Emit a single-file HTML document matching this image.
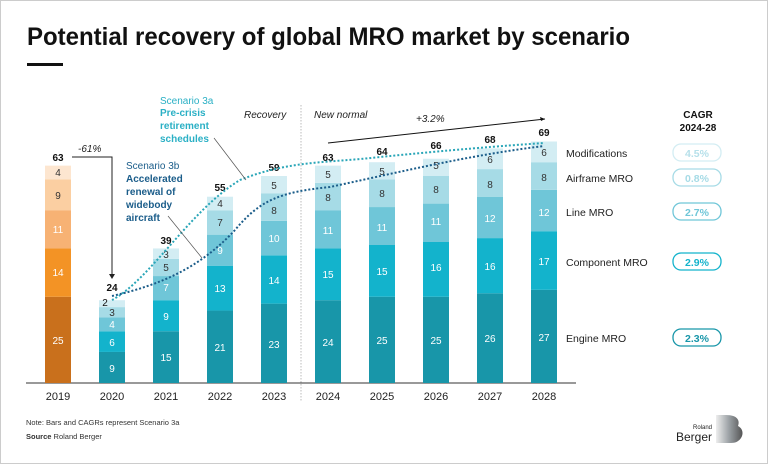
<!DOCTYPE html>
<html><head><meta charset="utf-8"><style>
html,body{margin:0;padding:0;background:#fff}
svg{display:block;font-family:"Liberation Sans",sans-serif}
</style></head><body>
<svg width="768" height="464" viewBox="0 0 768 464" xmlns="http://www.w3.org/2000/svg">
<rect x="0.5" y="0.5" width="767" height="463" fill="#fff" stroke="#ccc"/>
<text x="27" y="45" font-size="25" font-weight="bold" fill="#111" textLength="603" lengthAdjust="spacingAndGlyphs">Potential recovery of global MRO market by scenario</text>
<rect x="27" y="63" width="36" height="3" fill="#111"/>

<!-- divider -->
<line x1="301" y1="105" x2="301" y2="402" stroke="#bbb" stroke-dasharray="1.5,1.5"/>
<text x="244" y="118" font-size="10" font-style="italic" fill="#222">Recovery</text>
<text x="314" y="118" font-size="10" font-style="italic" fill="#222">New normal</text>
<line x1="328" y1="143" x2="545" y2="119" stroke="#111" stroke-width="1"/>
<polygon points="545,119 540,117 541,121" fill="#111"/>
<text x="416" y="122" font-size="10" font-style="italic" fill="#222">+3.2%</text>

<!-- baseline -->
<line x1="26" y1="383" x2="576" y2="383" stroke="#333" stroke-width="1"/>

<g font-size="10" text-anchor="middle">
<!-- 2019 -->
<rect x="45" y="296.75" width="26" height="86.25" fill="#c9701c"/>
<rect x="45" y="248.45" width="26" height="48.3" fill="#f39325"/>
<rect x="45" y="210.5" width="26" height="37.95" fill="#f7b274"/>
<rect x="45" y="179.45" width="26" height="31.05" fill="#fbcfa2"/>
<rect x="45" y="165.65" width="26" height="13.8" fill="#fde6d0"/>
<text x="58" y="344" fill="#fff">25</text><text x="58" y="276" fill="#fff">14</text><text x="58" y="233" fill="#fff">11</text><text x="58" y="199" fill="#333">9</text><text x="58" y="176" fill="#333">4</text>
<text x="58" y="161" font-weight="bold" fill="#111">63</text>

<!-- bars helper colors: e #1896a9 c #13b3cc l #6fc6d8 a #a6dbe6 m #d3edf3 -->
<!-- 2020 -->
<rect x="99" y="351.95" width="26" height="31.05" fill="#1896a9"/>
<rect x="99" y="331.25" width="26" height="20.7" fill="#13b3cc"/>
<rect x="99" y="317.45" width="26" height="13.8" fill="#6fc6d8"/>
<rect x="99" y="307.1" width="26" height="10.35" fill="#a6dbe6"/>
<rect x="99" y="300.2" width="26" height="6.9" fill="#d3edf3"/>
<text x="112" y="372" fill="#fff">9</text><text x="112" y="346" fill="#fff">6</text><text x="112" y="328" fill="#fff">4</text><text x="112" y="316" fill="#333">3</text><text x="105" y="306" fill="#111">2</text>
<text x="112" y="291" font-weight="bold" fill="#111">24</text>
<!-- 2021 -->
<rect x="153" y="331.25" width="26" height="51.75" fill="#1896a9"/>
<rect x="153" y="300.2" width="26" height="31.05" fill="#13b3cc"/>
<rect x="153" y="276.05" width="26" height="24.15" fill="#6fc6d8"/>
<rect x="153" y="258.8" width="26" height="17.25" fill="#a6dbe6"/>
<rect x="153" y="248.45" width="26" height="10.35" fill="#d3edf3"/>
<text x="166" y="361" fill="#fff">15</text><text x="166" y="320" fill="#fff">9</text><text x="166" y="291" fill="#fff">7</text><text x="166" y="271" fill="#333">5</text><text x="166" y="258" fill="#333">3</text>
<text x="166" y="244" font-weight="bold" fill="#111">39</text>
<!-- 2022 -->
<rect x="207" y="310.55" width="26" height="72.45" fill="#1896a9"/>
<rect x="207" y="265.7" width="26" height="44.85" fill="#13b3cc"/>
<rect x="207" y="234.65" width="26" height="31.05" fill="#6fc6d8"/>
<rect x="207" y="210.5" width="26" height="24.15" fill="#a6dbe6"/>
<rect x="207" y="196.7" width="26" height="13.8" fill="#d3edf3"/>
<text x="220" y="351" fill="#fff">21</text><text x="220" y="292" fill="#fff">13</text><text x="220" y="254" fill="#fff">9</text><text x="220" y="226" fill="#333">7</text><text x="220" y="207" fill="#333">4</text>
<text x="220" y="191" font-weight="bold" fill="#111">55</text>
<!-- 2023 -->
<rect x="261" y="303.65" width="26" height="79.35" fill="#1896a9"/>
<rect x="261" y="255.35" width="26" height="48.3" fill="#13b3cc"/>
<rect x="261" y="220.85" width="26" height="34.5" fill="#6fc6d8"/>
<rect x="261" y="193.25" width="26" height="27.6" fill="#a6dbe6"/>
<rect x="261" y="176" width="26" height="17.25" fill="#d3edf3"/>
<text x="274" y="348" fill="#fff">23</text><text x="274" y="284" fill="#fff">14</text><text x="274" y="242" fill="#fff">10</text><text x="274" y="214" fill="#333">8</text><text x="274" y="189" fill="#333">5</text>
<text x="274" y="171" font-weight="bold" fill="#111">59</text>
<!-- 2024 -->
<rect x="315" y="300.2" width="26" height="82.8" fill="#1896a9"/>
<rect x="315" y="248.45" width="26" height="51.75" fill="#13b3cc"/>
<rect x="315" y="210.5" width="26" height="37.95" fill="#6fc6d8"/>
<rect x="315" y="182.9" width="26" height="27.6" fill="#a6dbe6"/>
<rect x="315" y="165.65" width="26" height="17.25" fill="#d3edf3"/>
<text x="328" y="346" fill="#fff">24</text><text x="328" y="278" fill="#fff">15</text><text x="328" y="234" fill="#fff">11</text><text x="328" y="201" fill="#333">8</text><text x="328" y="178" fill="#333">5</text>
<text x="328" y="161" font-weight="bold" fill="#111">63</text>
<!-- 2025 -->
<rect x="369" y="296.75" width="26" height="86.25" fill="#1896a9"/>
<rect x="369" y="245" width="26" height="51.75" fill="#13b3cc"/>
<rect x="369" y="207.05" width="26" height="37.95" fill="#6fc6d8"/>
<rect x="369" y="179.45" width="26" height="27.6" fill="#a6dbe6"/>
<rect x="369" y="162.2" width="26" height="17.25" fill="#d3edf3"/>
<text x="382" y="344" fill="#fff">25</text><text x="382" y="275" fill="#fff">15</text><text x="382" y="231" fill="#fff">11</text><text x="382" y="197" fill="#333">8</text><text x="382" y="175" fill="#333">5</text>
<text x="382" y="155" font-weight="bold" fill="#111">64</text>
<!-- 2026 -->
<rect x="423" y="296.75" width="26" height="86.25" fill="#1896a9"/>
<rect x="423" y="242" width="26" height="54.75" fill="#13b3cc"/>
<rect x="423" y="203.6" width="26" height="38.4" fill="#6fc6d8"/>
<rect x="423" y="176" width="26" height="27.6" fill="#a6dbe6"/>
<rect x="423" y="158.75" width="26" height="17.25" fill="#d3edf3"/>
<text x="436" y="344" fill="#fff">25</text><text x="436" y="271" fill="#fff">16</text><text x="436" y="225" fill="#fff">11</text><text x="436" y="193" fill="#333">8</text><text x="436" y="169" fill="#333">5</text>
<text x="436" y="149" font-weight="bold" fill="#111">66</text>
<!-- 2027 -->
<rect x="477" y="293.3" width="26" height="89.7" fill="#1896a9"/>
<rect x="477" y="238.1" width="26" height="55.2" fill="#13b3cc"/>
<rect x="477" y="196.7" width="26" height="41.4" fill="#6fc6d8"/>
<rect x="477" y="169.1" width="26" height="27.6" fill="#a6dbe6"/>
<rect x="477" y="148.4" width="26" height="20.7" fill="#d3edf3"/>
<text x="490" y="342" fill="#fff">26</text><text x="490" y="270" fill="#fff">16</text><text x="490" y="222" fill="#fff">12</text><text x="490" y="188" fill="#333">8</text><text x="490" y="163" fill="#333">6</text>
<text x="490" y="143" font-weight="bold" fill="#111">68</text>
<!-- 2028 -->
<rect x="531" y="289.85" width="26" height="93.15" fill="#1896a9"/>
<rect x="531" y="231.2" width="26" height="58.65" fill="#13b3cc"/>
<rect x="531" y="189.8" width="26" height="41.4" fill="#6fc6d8"/>
<rect x="531" y="162.2" width="26" height="27.6" fill="#a6dbe6"/>
<rect x="531" y="141.5" width="26" height="20.7" fill="#d3edf3"/>
<text x="544" y="341" fill="#fff">27</text><text x="544" y="265" fill="#fff">17</text><text x="544" y="216" fill="#fff">12</text><text x="544" y="181" fill="#333">8</text><text x="544" y="156" fill="#333">6</text>
<text x="544" y="136" font-weight="bold" fill="#111">69</text>

<!-- years -->
<g font-size="11" fill="#222">
<text x="58" y="400">2019</text><text x="112" y="400">2020</text><text x="166" y="400">2021</text><text x="220" y="400">2022</text><text x="274" y="400">2023</text>
<text x="328" y="400">2024</text><text x="382" y="400">2025</text><text x="436" y="400">2026</text><text x="490" y="400">2027</text><text x="544" y="400">2028</text>
</g>
</g>

<!-- -61% arrow -->
<polyline points="72,157 112,157 112,274" fill="none" stroke="#222" stroke-width="1"/>
<polygon points="109,274 115,274 112,279" fill="#222"/>
<text x="78" y="152" font-size="10" font-style="italic" fill="#222">-61%</text>

<!-- scenario curves -->
<path d="M112,300 C150,280 190,210 240,180 C290,160 330,163 380,157 C450,150 500,146 544,143" fill="none" stroke="#2aa6b8" stroke-width="2" stroke-dasharray="2,2"/>
<path d="M112,296 C160,285 200,268 235,230 C260,200 280,192 330,187 C400,172 470,155 544,146" fill="none" stroke="#1b5d8a" stroke-width="2" stroke-dasharray="2,2"/>

<!-- annotations -->
<g font-size="10">
<text x="160" y="104" fill="#2ab0c5">Scenario 3a</text>
<text x="160" y="116" fill="#2ab0c5" font-weight="bold">Pre-crisis</text>
<text x="160" y="129" fill="#2ab0c5" font-weight="bold">retirement</text>
<text x="160" y="142" fill="#2ab0c5" font-weight="bold">schedules</text>
<text x="126" y="169" fill="#1b5d8a">Scenario 3b</text>
<text x="126" y="182" fill="#1b5d8a" font-weight="bold">Accelerated</text>
<text x="126" y="195" fill="#1b5d8a" font-weight="bold">renewal of</text>
<text x="126" y="208" fill="#1b5d8a" font-weight="bold">widebody</text>
<text x="126" y="221" fill="#1b5d8a" font-weight="bold">aircraft</text>
</g>
<line x1="214" y1="138" x2="246" y2="180" stroke="#555" stroke-width="0.7"/>
<line x1="168" y1="216" x2="202" y2="258" stroke="#555" stroke-width="0.7"/>

<!-- legend -->
<g font-size="10.5" fill="#222">
<text x="566" y="157">Modifications</text>
<text x="566" y="182">Airframe MRO</text>
<text x="566" y="216">Line MRO</text>
<text x="566" y="266">Component MRO</text>
<text x="566" y="342">Engine MRO</text>
</g>
<text x="698" y="118" font-size="10" font-weight="bold" text-anchor="middle" fill="#111">CAGR</text>
<text x="698" y="131" font-size="10" font-weight="bold" text-anchor="middle" fill="#111">2024-28</text>
<g font-size="10.5" font-weight="bold" text-anchor="middle">
<rect x="673" y="144" width="48" height="17" rx="8" fill="#fff" stroke="#d3edf3" stroke-width="1.3"/><text x="697" y="157" fill="#b6e0ea">4.5%</text>
<rect x="673" y="169" width="48" height="17" rx="8" fill="#fff" stroke="#a6dbe6" stroke-width="1.3"/><text x="697" y="182" fill="#a6dbe6">0.8%</text>
<rect x="673" y="203" width="48" height="17" rx="8" fill="#fff" stroke="#6fc6d8" stroke-width="1.3"/><text x="697" y="216" fill="#6fc6d8">2.7%</text>
<rect x="673" y="253" width="48" height="17" rx="8" fill="#fff" stroke="#13b3cc" stroke-width="1.3"/><text x="697" y="266" fill="#13b3cc">2.9%</text>
<rect x="673" y="329" width="48" height="17" rx="8" fill="#fff" stroke="#1896a9" stroke-width="1.3"/><text x="697" y="342" fill="#1896a9">2.3%</text>
</g>

<!-- footer -->
<text x="26" y="425" font-size="7.5" fill="#333">Note: Bars and CAGRs represent Scenario 3a</text>
<text x="26" y="439" font-size="7.5" fill="#333"><tspan font-weight="bold">Source</tspan> Roland Berger</text>

<!-- logo -->
<text x="712" y="429" font-size="6" text-anchor="end" fill="#222">Roland</text>
<text x="712" y="441" font-size="12" text-anchor="end" fill="#222">Berger</text>
<defs><linearGradient id="g" x1="0" x2="1"><stop offset="0" stop-color="#eee"/><stop offset="0.5" stop-color="#9aa0a4"/><stop offset="1" stop-color="#555"/></linearGradient></defs>
<path d="M716,415 h10 c12,0 14,6 12,11 c6,3 6,11 0,15 c-2,2 -6,2 -10,2 h-12 z" fill="url(#g)"/>
</svg>
</body></html>
